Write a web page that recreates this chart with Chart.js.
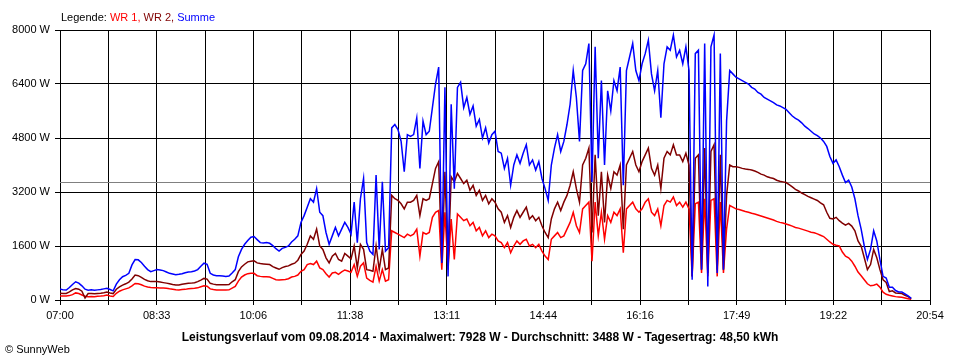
<!DOCTYPE html>
<html>
<head>
<meta charset="utf-8">
<script src="https://cdn.jsdelivr.net/npm/chart.js@4.4.1/dist/chart.umd.min.js"></script>
<style>
  html, body { margin: 0; padding: 0; background: #fff; }
  #wrap { width: 960px; height: 360px; }
</style>
</head>
<body>
<div id="wrap"><canvas id="chart" width="960" height="360"></canvas></div>
<script>
// Zeitachse: 07:00 bis 20:54, Messwerte alle 3 Minuten
const startMinute = 420;
const endMinute = 1254;
const stepMinutes = 3;

const xTickLabels = ['07:00', '08:33', '10:06', '11:38', '13:11', '14:44', '16:16', '17:49', '19:22', '20:54'];

const wr1 = [
  118, 115, 118, 130, 160, 210, 190, 150, 110, 100,
  105, 100, 110, 115, 125, 145, 120, 105, 200, 260,
  300, 330, 360, 420, 490, 480, 450, 410, 385, 370,
  365, 360, 355, 355, 345, 330, 320, 305, 300, 310,
  315, 330, 340, 345, 360, 390, 420, 410, 330, 310,
  300, 300, 300, 295, 300, 350, 400, 560, 680, 740,
  780, 790, 790, 720, 700, 690, 690, 680, 640, 600,
  590, 600, 610, 630, 680, 700, 740, 850, 900, 1050,
  1080, 1050, 1150, 950, 900, 780, 680, 800, 820, 760,
  830, 890, 860, 820, 1050, 700, 1000, 1100, 650, 580,
  530, 1000, 560, 900, 560, 600, 2050, 2000, 1950, 1900,
  1850, 1950, 1900, 1950, 2100, 1300, 2000, 1950, 2000, 2450,
  2600, 2650, 900, 2600, 900, 2400, 1200, 2550, 2450, 2350,
  2400, 2200, 2300, 2050, 2150, 1900, 2050, 1850, 1950, 1900,
  1750, 1700, 1550, 1700, 1400, 1600, 1750, 1650, 1750, 1800,
  1600, 1650, 1550, 1650, 1450, 1300, 1200, 1800, 1900, 2000,
  1850, 1900, 2100, 2300, 2600, 2200, 2000, 2700, 2800, 2900,
  1150, 2900, 1900, 2600, 1800, 2500, 2300, 2600, 2500, 2700,
  1400, 2700, 2800, 2900, 2700, 2600, 2700, 2900, 3000, 2600,
  2500, 2700, 2200, 2800, 2950, 2900, 3050, 2800, 2900, 2750,
  2900, 2700, 700, 2850, 2900, 800, 3000, 700, 2950, 3000,
  700, 2900, 800, 2100, 2800, 2750, 2700, 2680, 2650, 2620,
  2600, 2570, 2550, 2520, 2490, 2460, 2430, 2400, 2370, 2330,
  2300, 2280, 2250, 2220, 2190, 2150, 2130, 2100, 2070, 2040,
  2010, 1990, 1960, 1920, 1880, 1800, 1720, 1650, 1620, 1600,
  1420, 1300, 1250, 1150, 1000, 830, 720, 600, 480, 420,
  440, 470, 380, 230, 170, 140, 120, 100, 90, 80,
  60, 40, 20
];

const wr2 = [
  198, 190, 195, 240, 300, 340, 320, 260, 60, 190,
  190, 185, 195, 200, 215, 235, 210, 190, 320, 390,
  440, 480, 530, 620, 740, 720, 670, 610, 570, 545,
  545, 545, 530, 515, 500, 480, 460, 445, 445, 465,
  480, 495, 500, 510, 545, 590, 640, 620, 494, 470,
  450, 450, 455, 450, 460, 540, 600, 840, 980, 1060,
  1130, 1150, 1160, 1100, 1080, 1070, 1060, 1050, 990, 950,
  910, 960, 990, 1010, 1060, 1090, 1180, 1350, 1450, 1650,
  1900, 1800, 2100, 1600, 1500, 1250, 1100, 1300, 1380, 1200,
  1150, 1380, 1300, 1220, 1600, 950, 1650, 1500, 900, 880,
  850, 1600, 900, 1500, 900, 950, 3100, 3000, 2950, 2850,
  2700, 2900, 2900, 2950, 3100, 2500, 3000, 2950, 3000, 3450,
  3900, 4100, 1100, 3800, 1000, 3650, 3500, 3750, 3600, 3450,
  3550, 3250, 3400, 3100, 3250, 2950, 3100, 2850, 3000, 2900,
  2700, 2600, 2300, 2500, 2150, 2450, 2650, 2450, 2600, 2750,
  2400, 2500, 2350, 2450, 2200, 2000, 1850, 2400, 2700, 2900,
  2650, 2900, 3100, 3400, 3800, 3300, 2900, 4000, 4200, 4500,
  2000, 4300, 2500, 3800, 2300, 3700, 3300, 3800, 3700, 4000,
  2100, 4000, 4200, 4400, 4000, 3800, 4100, 4300, 4500, 3900,
  3700, 4000, 3300, 4200, 4400, 4300, 4600, 4300, 4300, 4100,
  4350, 4000, 700, 4200, 4300, 900, 4500, 800, 4400, 4600,
  900, 4300, 900, 3100, 4000, 3950, 3950, 3930, 3900, 3880,
  3870, 3850, 3820, 3780, 3730, 3700, 3650, 3620, 3600, 3550,
  3520, 3500, 3480, 3420, 3350, 3280, 3230, 3170, 3120, 3070,
  3030, 2990, 2950, 2880, 2820, 2600, 2420, 2400, 2450, 2350,
  2280, 2220, 2270, 2190, 2050, 1750, 1600, 1250, 900, 1050,
  1500, 1250, 900, 600, 520, 250, 270, 210, 200, 190,
  140, 100, 40
];

const summe = [
  326, 300, 296, 370, 460, 540, 500, 420, 320, 290,
  300, 290, 300, 310, 330, 350, 310, 270, 470, 600,
  690, 730, 790, 1040, 1200, 1190, 1110, 1000, 900, 840,
  870, 900, 890, 870, 830, 790, 770, 750, 760, 780,
  810, 830, 840, 860, 900, 1000, 1090, 1060, 790, 740,
  720, 720, 710, 700, 710, 800, 900, 1280, 1500, 1650,
  1760, 1860, 1880, 1790, 1700, 1690, 1700, 1680, 1610, 1520,
  1450, 1530, 1560, 1600, 1720, 1800, 1900, 2300, 2500, 2750,
  3000, 2900, 3300, 2600, 2500, 2000, 1650, 1900, 2150, 1900,
  2100, 2300, 2150, 1950, 2900, 1700, 3000, 3600, 1700, 1450,
  1350, 3700, 1500, 3500, 1450, 1550, 5100, 5200, 5050, 4700,
  3800, 4900, 4850, 4900, 5400, 3900, 5300, 4900, 5000, 5700,
  6400, 6900, 1100, 6300, 700, 5800, 3300, 6300, 6450, 5700,
  6000, 5500, 5750, 5150, 5350, 4800, 5100, 4650, 4900, 5000,
  4400, 4350, 3900, 4200, 3400, 4000, 4300, 4050, 4350, 4600,
  4000, 4150, 3850, 4100, 3600, 3300, 2950, 4000, 4500, 4900,
  4400, 4700, 5200, 5800, 6800, 6000, 4700, 6800, 7000, 7600,
  3500, 7500, 4200, 6500, 4000, 6200, 5600, 6500, 6200, 6900,
  3400, 6800, 7200, 7600, 6800, 6500, 7000, 7300, 7700, 6700,
  6200, 6800, 5400, 7000, 7500, 7400, 7850, 7200, 7400, 7000,
  7500, 6800, 600, 7300, 7400, 900, 7600, 400, 7500, 7850,
  800, 7300, 900, 5300, 6800, 6700, 6600, 6550, 6500, 6450,
  6400, 6300, 6250, 6150, 6100, 6000, 5950, 5900, 5850, 5780,
  5750, 5700, 5650, 5550, 5450, 5380, 5330, 5250, 5150, 5080,
  5000, 4920, 4870, 4800, 4700, 4550, 4250, 4050, 4150, 3950,
  3700, 3480, 3550, 3350, 3000, 2500, 2100, 1600, 1200, 1500,
  2050, 1750, 1200, 700, 650, 380, 380, 280, 240, 240,
  180, 120, 50
];

const durchschnitt = 3488;
const titel = 'Leistungsverlauf vom 09.08.2014 - Maximalwert: 7928 W - Durchschnitt: 3488 W - Tagesertrag: 48,50 kWh';

const fontFamily = "'Liberation Sans', Arial, sans-serif";

function toPoints(values) {
    return values.map((v, i) => ({ x: startMinute + i * stepMinutes, y: v }));
}

const sunnyPlugin = {
    id: 'sunnyPlugin',
    beforeDatasetsDraw(chart) {
        const { ctx, chartArea, scales } = chart;
        const y = Math.round(scales.y.getPixelForValue(durchschnitt)) + 0.5;
        ctx.save();
        ctx.strokeStyle = '#808080';
        ctx.lineWidth = 1;
        ctx.beginPath();
        ctx.moveTo(chartArea.left, y);
        ctx.lineTo(chartArea.right, y);
        ctx.stroke();
        ctx.restore();
    },
    afterDraw(chart) {
        const ctx = chart.ctx;
        ctx.save();
        ctx.textBaseline = 'alphabetic';
        ctx.font = '11px ' + fontFamily;
        let x = 61;
        const parts = [
            ['Legende: ', '#000000'],
            ['WR 1,', '#ff0000'],
            [' WR 2,', '#800000'],
            [' Summe', '#0000ff']
        ];
        parts.forEach(([text, color]) => {
            ctx.fillStyle = color;
            ctx.fillText(text, x, 21);
            x += ctx.measureText(text).width;
        });

        ctx.fillStyle = '#000000';
        ctx.font = 'bold 12px ' + fontFamily;
        ctx.textAlign = 'center';
        ctx.fillText(titel, 480, 341);

        ctx.font = '11px ' + fontFamily;
        ctx.textAlign = 'left';
        ctx.fillText('\u00a9 SunnyWeb', 5, 353);
        ctx.restore();
    }
};

new Chart(document.getElementById('chart'), {
    type: 'line',
    data: {
        datasets: [
            { label: 'Summe', data: toPoints(summe), borderColor: '#0000ff', order: 0 },
            { label: 'WR 2', data: toPoints(wr2), borderColor: '#800000', order: 1 },
            { label: 'WR 1', data: toPoints(wr1), borderColor: '#ff0000', order: 2 }
        ]
    },
    options: {
        responsive: false,
        animation: false,
        events: [],
        layout: { padding: { top: 30, right: 30, left: 0, bottom: 0 } },
        elements: {
            line: { borderWidth: 1.5, tension: 0, fill: false },
            point: { radius: 0 }
        },
        plugins: {
            legend: { display: false },
            tooltip: { enabled: false }
        },
        scales: {
            x: {
                type: 'linear',
                min: startMinute,
                max: endMinute,
                afterBuildTicks: (scale) => {
                    const ticks = [];
                    for (let k = 0; k <= 18; k++) {
                        ticks.push({ value: startMinute + k * (endMinute - startMinute) / 18 });
                    }
                    scale.ticks = ticks;
                },
                afterFit: (scale) => { scale.height = 60; },
                ticks: {
                    autoSkip: false,
                    maxRotation: 0,
                    padding: 4,
                    color: '#000',
                    font: { family: fontFamily, size: 11 },
                    callback: (value, index) => index % 2 === 0 ? xTickLabels[index / 2] : ''
                },
                grid: { color: '#000', tickColor: '#000', tickLength: 5 },
                border: { color: '#000' }
            },
            y: {
                min: 0,
                max: 8000,
                afterFit: (scale) => { scale.width = 60; },
                ticks: {
                    stepSize: 1600,
                    padding: 5,
                    color: '#000',
                    font: { family: fontFamily, size: 11 },
                    callback: (value) => value + ' W'
                },
                grid: { color: '#000', tickColor: '#000', tickLength: 5 },
                border: { color: '#000' }
            }
        }
    },
    plugins: [sunnyPlugin]
});
</script>
</body>
</html>
